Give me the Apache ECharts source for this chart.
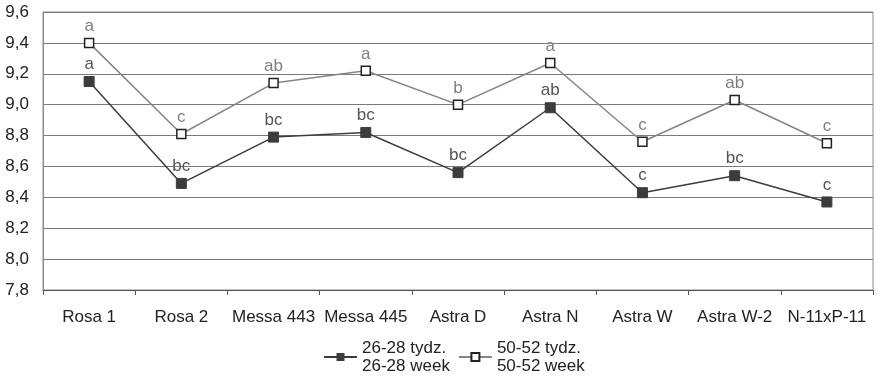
<!DOCTYPE html>
<html><head><meta charset="utf-8">
<script src="https://cdn.jsdelivr.net/npm/echarts@6/dist/echarts.min.js"></script>
<style>html,body{margin:0;padding:0;background:#fff}#c{width:878px;height:380px}</style>
</head><body><div id="c"></div>
<script>
const categories = ['Rosa 1','Rosa 2','Messa 443','Messa 445','Astra D','Astra N','Astra W','Astra W-2','N-11xP-11'];
const week26 = [9.15, 8.49, 8.79, 8.82, 8.56, 8.98, 8.43, 8.54, 8.37];
const week50 = [9.40, 8.81, 9.14, 9.22, 9.00, 9.27, 8.76, 9.03, 8.75];
const letters26 = ['a','bc','bc','bc','bc','ab','c','bc','c'];
const letters50 = ['a','c','ab','a','b','a','c','ab','c'];
const name26 = '26-28 tydz.\n26-28 week';
const name50 = '50-52 tydz.\n50-52 week';
const yTicks = {min: 7.8, max: 9.6, interval: 0.2};

const font = 'Liberation Sans, Arial, sans-serif';
const chart = echarts.init(document.getElementById('c'));
chart.setOption({
  animation: false,
  backgroundColor: '#fff',
  grid: {left: 43, right: 5, top: 12, bottom: 90, show: true, borderColor: '#8a8a8a', borderWidth: 1, containLabel: false},
  xAxis: {
    type: 'category', data: categories, boundaryGap: true,
    axisLine: {lineStyle: {color: '#555', width: 1}},
    axisTick: {show: true, length: 5, lineStyle: {color: '#555'}},
    axisLabel: {color: '#222', fontFamily: font, fontSize: 17, margin: 19, interval: 0}
  },
  yAxis: {
    type: 'value', min: yTicks.min, max: yTicks.max, interval: yTicks.interval,
    axisLine: {show: true, lineStyle: {color: '#8a8a8a'}},
    axisTick: {show: false},
    splitLine: {lineStyle: {color: '#7a7a7a', width: 1}},
    axisLabel: {color: '#222', fontFamily: font, fontSize: 17, margin: 14,
      formatter: v => v.toFixed(1).replace('.', ',')}
  },
  legend: {
    top: 325, left: 318, itemWidth: 33, itemHeight: 10, itemGap: 8,
    textStyle: {fontFamily: font, fontSize: 17, color: '#222', lineHeight: 18, padding: [18,0,0,0]},
    data: [name26, name50]
  },
  series: [
    {
      name: name26, type: 'line', data: week26,
      symbol: 'rect', symbolSize: 10,
      lineStyle: {color: '#3c3c3c', width: 1.5},
      itemStyle: {color: '#3c3c3c', borderColor: '#3c3c3c'},
      label: {show: true, position: 'top', distance: 3, color: '#555', fontFamily: font, fontSize: 17,
        formatter: p => letters26[p.dataIndex]}
    },
    {
      name: name50, type: 'line', data: week50,
      symbol: 'rect', symbolSize: 9,
      lineStyle: {color: '#858585', width: 1.5},
      itemStyle: {color: '#fff', borderColor: '#222', borderWidth: 1.5},
      label: {show: true, position: 'top', distance: 3, color: '#808080', fontFamily: font, fontSize: 17,
        formatter: p => letters50[p.dataIndex]}
    }
  ]
});
</script></body></html>
